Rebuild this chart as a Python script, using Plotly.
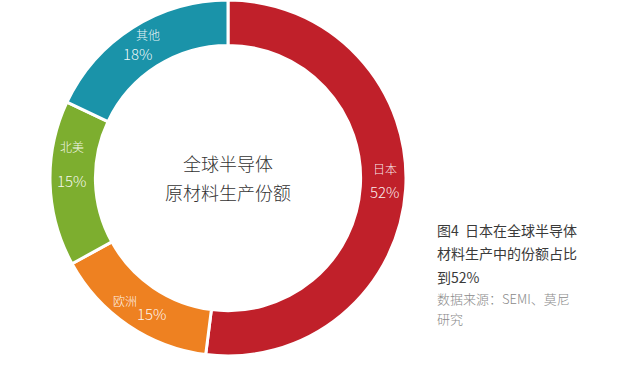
import math
import plotly.graph_objects as go

regions = ["日本", "欧洲", "北美", "其他"]
shares = [52, 15, 15, 18]
colors = ["#C0202A", "#EE8121", "#7DAE2F", "#1A93A9"]
center_lines = ["全球半导体", "原材料生产份额"]
caption_lines = ["图4  日本在全球半导体", "材料生产中的份额占比", "到52%"]
source_lines = ["数据来源：SEMI、莫尼", "研究"]

W, H = 620, 371
FONT = "Noto Sans CJK SC"
CX, CY, R = 228, 178, 178       # pie centre / radius in px (layout)
HOLE = 0.745
LABEL_R = R * (1 + HOLE) / 2
# per-label nudges (px) for name and percentage (style only)
name_nudge = [(2, -19), (-16, -6), (-1, -36), (3, -12)]
pct_nudge = [(2, 4), (11, 7), (-1, -2), (-7, 7)]

fig = go.Figure(go.Pie(
    labels=regions,
    values=shares,
    textinfo="none",
    hole=HOLE,
    sort=False,
    direction="clockwise",
    rotation=0,
    marker=dict(colors=colors, line=dict(color="white", width=3)),
    domain=dict(x=[(CX - R) / W, (CX + R) / W], y=[(H - CY - R) / H, (H - CY + R) / H]),
    showlegend=False,
    hoverinfo="label+percent",
))

total = sum(shares)
cum = 0
for i, (name, v) in enumerate(zip(regions, shares)):
    mid = (cum + v / 2) / total * 2 * math.pi
    cum += v
    mx = CX + LABEL_R * math.sin(mid)
    my = CY - LABEL_R * math.cos(mid)
    for txt, (dx, dy), size in ((name, name_nudge[i], 12), (f"{v}%", pct_nudge[i], 15)):
        fig.add_annotation(x=(mx + dx) / W, y=1 - (my + dy) / H, xref="paper", yref="paper",
                           text=txt, showarrow=False, xanchor="center", yanchor="middle",
                           font=dict(family=FONT, size=size, weight=300,
                                     color="rgba(255,255,255,0.93)"))

for line, ypx in zip(center_lines, [163, 192]):
    fig.add_annotation(x=CX / W, y=1 - ypx / H, xref="paper", yref="paper",
                       text=line, showarrow=False, xanchor="center", yanchor="middle",
                       font=dict(family=FONT, size=18, weight=300, color="#333333"))

for line, ypx in zip(caption_lines, [230, 253, 277]):
    fig.add_annotation(x=435 / W, y=1 - ypx / H, xref="paper", yref="paper",
                       text=line, showarrow=False, xanchor="left", yanchor="middle",
                       font=dict(family=FONT, size=14, color="#3a3a3a"))
for line, ypx in zip(source_lines, [298, 318]):
    fig.add_annotation(x=435 / W, y=1 - ypx / H, xref="paper", yref="paper",
                       text=line, showarrow=False, xanchor="left", yanchor="middle",
                       font=dict(family=FONT, size=13, weight=300, color="#8a8a8a"))

fig.update_layout(width=W, height=H, margin=dict(l=0, r=0, t=0, b=0),
                  paper_bgcolor="white", plot_bgcolor="white")
fig.write_html("out.html")
